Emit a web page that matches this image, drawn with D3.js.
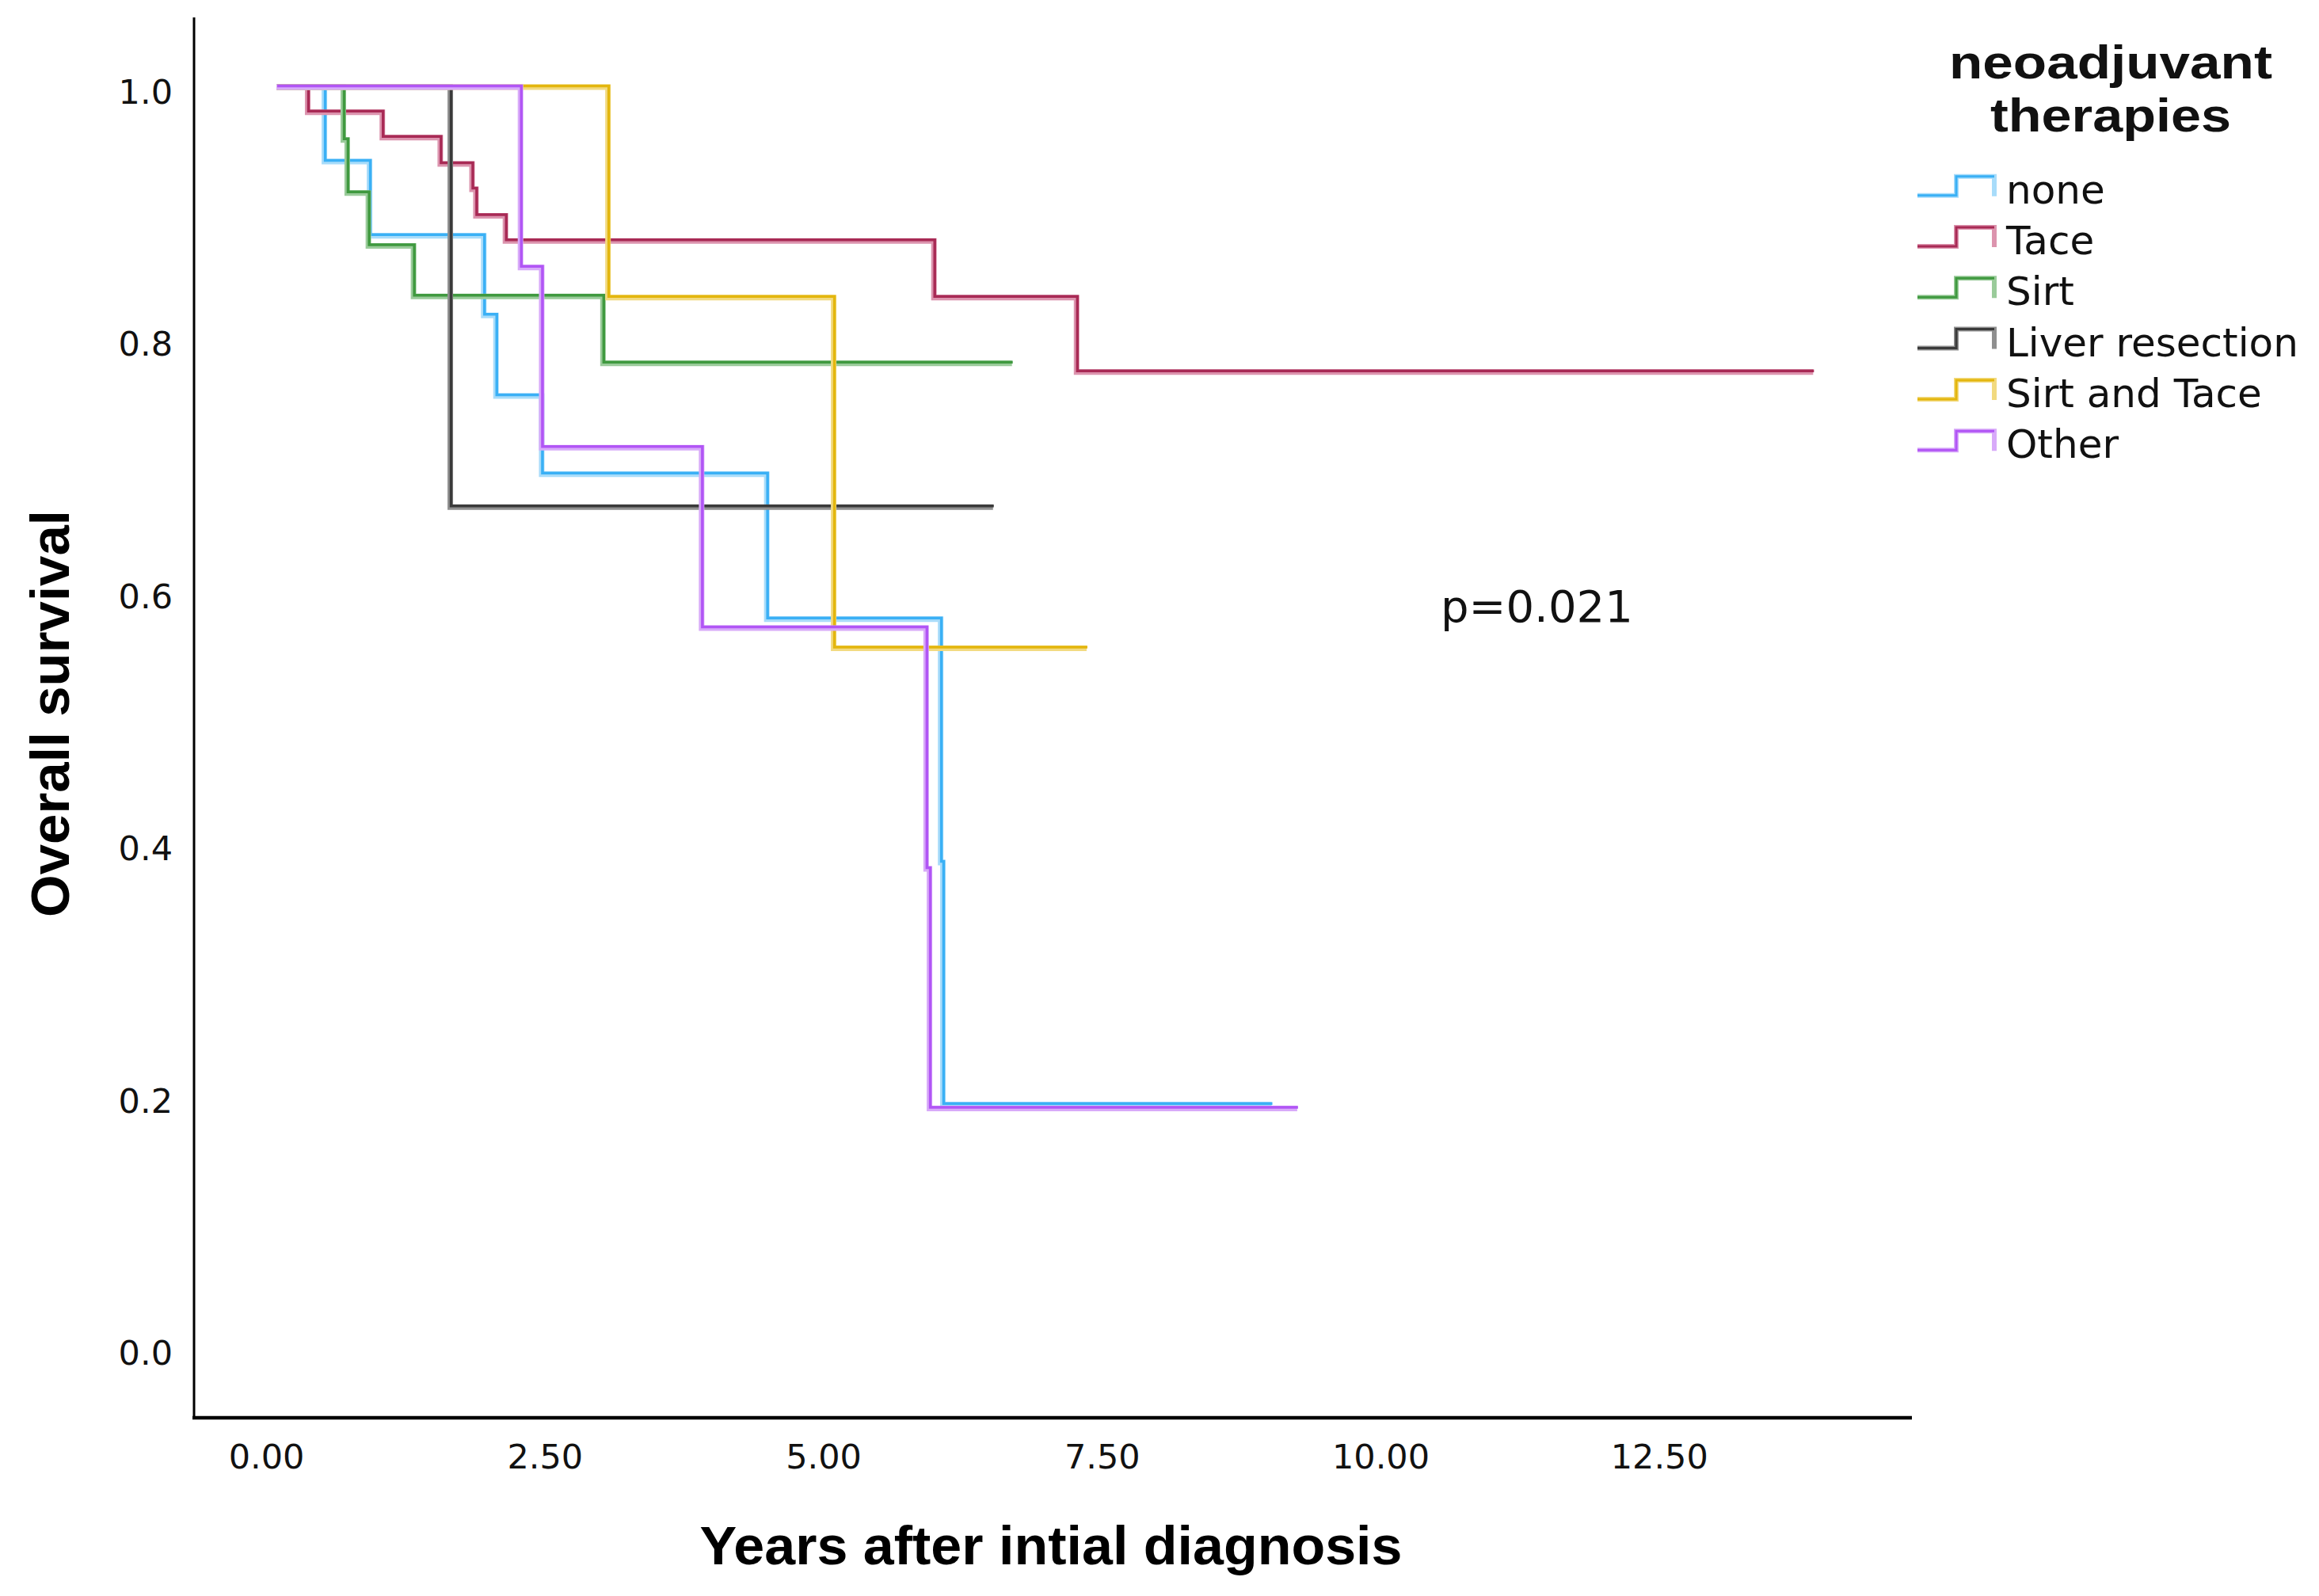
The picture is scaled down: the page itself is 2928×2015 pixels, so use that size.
<!DOCTYPE html>
<html>
<head>
<meta charset="utf-8">
<script src="https://cdn.jsdelivr.net/npm/d3@7.9.0/dist/d3.min.js"></script>
<style>
  html, body { margin: 0; padding: 0; background: #fff; }
  svg { display: block; }
</style>
</head>
<body>
<svg id="chart" width="2928" height="2015"></svg>
<script>
// groups (legend order)
const groups = ['none', 'Tace', 'Sirt', 'Liver resection', 'Sirt and Tace', 'Other'];
const darkColors = ['#3ab0f5', '#a82a55', '#3f993f', '#3a3a3a', '#e3b60e', '#b155f5'];
const lightColors = ['#a8dcfa', '#dc94ae', '#9acb9a', '#8f8f8f', '#f2da80', '#d8aaf9'];

// Kaplan-Meier steps: event times (years) and survival after each step
const startTime = 0.1;
const noneTimes = [0.53, 0.935, 1.96, 2.07, 2.48, 4.50, 6.06, 6.08];
const noneSurv = [0.941, 0.882, 0.819, 0.755, 0.693, 0.578, 0.385, 0.193];
const taceTimes = [0.38, 1.05, 1.57, 1.855, 1.89, 2.155, 6.0, 7.28];
const taceSurv = [0.980, 0.960, 0.939, 0.919, 0.898, 0.878, 0.833, 0.774];
const sirtTimes = [0.70, 0.735, 0.925, 1.33, 3.03];
const sirtSurv = [0.958, 0.916, 0.874, 0.834, 0.781];
const liverTimes = [1.66];
const liverSurv = [0.667];
const sirtTaceTimes = [3.075, 5.10];
const sirtTaceSurv = [0.833, 0.555];
const otherTimes = [2.29, 2.48, 3.915, 5.93, 5.96];
const otherSurv = [0.857, 0.714, 0.571, 0.380, 0.190];
// last follow-up time of each group (end of the flat tail)
const endTimes = [9.03, 13.89, 6.70, 6.53, 7.37, 9.26];

const allTimes = [noneTimes, taceTimes, sirtTimes, liverTimes, sirtTaceTimes, otherTimes];
const allSurv = [noneSurv, taceSurv, sirtSurv, liverSurv, sirtTaceSurv, otherSurv];

const xTicks = [0, 2.5, 5, 7.5, 10, 12.5];
const yTicks = [0, 0.2, 0.4, 0.6, 0.8, 1.0];

const svg = d3.select('#chart');

const x = d3.scaleLinear().domain([0, 12.5]).range([336, 2094.75]);
const y = d3.scaleLinear().domain([0, 1]).range([1700.5, 108.5]);

// axis lines (frame is only left + bottom)
svg.append('line')
  .attr('x1', 245).attr('x2', 245).attr('y1', 22).attr('y2', 1790)
  .attr('stroke', '#000').attr('stroke-width', 3);
svg.append('line')
  .attr('x1', 243).attr('x2', 2414).attr('y1', 1790).attr('y2', 1790)
  .attr('stroke', '#000').attr('stroke-width', 4.5);

// tick labels through d3 axes, no tick marks
const xAxis = svg.append('g')
  .attr('transform', 'translate(0,1790)')
  .call(d3.axisBottom(x).tickValues(xTicks).tickFormat(d3.format('.2f')).tickSize(0).tickPadding(33));
xAxis.select('.domain').remove();
xAxis.selectAll('text')
  .attr('font-family', 'DejaVu Sans')
  .attr('font-size', 43)
  .attr('fill', '#111');

const yAxis = svg.append('g')
  .attr('transform', 'translate(245,0)')
  .call(d3.axisLeft(y).tickValues(yTicks).tickFormat(d3.format('.1f')).tickSize(0).tickPadding(27));
yAxis.select('.domain').remove();
yAxis.selectAll('text')
  .attr('font-family', 'DejaVu Sans')
  .attr('font-size', 43)
  .attr('dy', '0.51em')
  .attr('fill', '#111');

// survival curves
const line = d3.line()
  .x(d => x(d[0]))
  .y(d => y(d[1]))
  .curve(d3.curveStepAfter);

groups.forEach((g, i) => {
  let pts = [[startTime, 1]];
  allTimes[i].forEach((t, j) => pts.push([t, allSurv[i][j]]));
  pts.push([endTimes[i], allSurv[i][allSurv[i].length - 1]]);

  svg.append('path')
    .attr('d', line(pts))
    .attr('fill', 'none')
    .attr('stroke', lightColors[i])
    .attr('stroke-width', 7)
    .attr('transform', 'translate(-1,1.5)');
  svg.append('path')
    .attr('d', line(pts))
    .attr('fill', 'none')
    .attr('stroke', darkColors[i])
    .attr('stroke-width', 3.5);
});

// axis titles
svg.append('text')
  .attr('x', 1327).attr('y', 1975)
  .attr('text-anchor', 'middle')
  .attr('font-family', 'Liberation Sans').attr('font-weight', 'bold')
  .attr('font-size', 68)
  .attr('textLength', 887).attr('lengthAdjust', 'spacingAndGlyphs')
  .text('Years after intial diagnosis');

svg.append('text')
  .attr('transform', 'translate(87,901) rotate(-90)')
  .attr('text-anchor', 'middle')
  .attr('font-family', 'Liberation Sans').attr('font-weight', 'bold')
  .attr('font-size', 69)
  .attr('textLength', 514).attr('lengthAdjust', 'spacingAndGlyphs')
  .text('Overall survival');

// p value
svg.append('text')
  .attr('x', 1819).attr('y', 785)
  .attr('font-family', 'DejaVu Sans')
  .attr('font-size', 56)
  .attr('fill', '#111')
  .text('p=0.021');

// legend
const legendTitle = ['neoadjuvant', 'therapies'];
const legendTitleWidth = [408, 304];
legendTitle.forEach((t, i) => {
  svg.append('text')
    .attr('x', 2665).attr('y', 99 + i * 67)
    .attr('text-anchor', 'middle')
    .attr('font-family', 'Liberation Sans').attr('font-weight', 'bold')
    .attr('font-size', 60)
    .attr('textLength', legendTitleWidth[i]).attr('lengthAdjust', 'spacingAndGlyphs')
    .attr('fill', '#111')
    .text(t);
});

const legendBase = 256.7;
const legendStep = 64.3;
groups.forEach((g, i) => {
  const b = legendBase + i * legendStep;
  const sym = `M2421,${b - 10}H2470V${b - 34}H2518V${b - 9}`;
  svg.append('path')
    .attr('d', sym)
    .attr('fill', 'none')
    .attr('stroke', lightColors[i])
    .attr('stroke-width', 6);
  svg.append('path')
    .attr('d', `M2421,${b - 10}H2470V${b - 34}H2518`)
    .attr('fill', 'none')
    .attr('stroke', darkColors[i])
    .attr('stroke-width', 3);
  svg.append('text')
    .attr('x', 2533).attr('y', b)
    .attr('font-family', 'DejaVu Sans')
    .attr('font-size', 50)
    .attr('fill', '#111')
    .text(g);
});
</script>
</body>
</html>
